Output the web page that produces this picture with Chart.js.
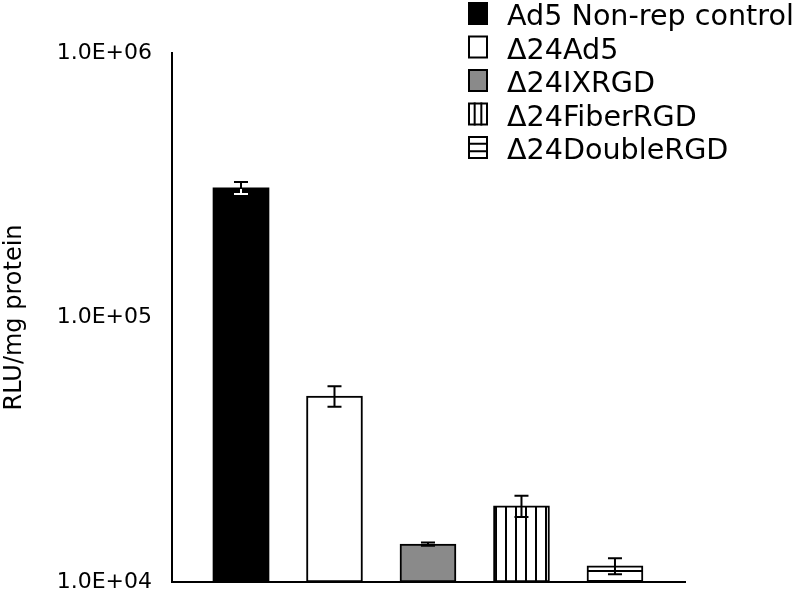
<!DOCTYPE html>
<html>
<head>
<meta charset="utf-8">
<script src="https://cdn.jsdelivr.net/npm/chart.js@4"></script>
<style>
  html, body { margin: 0; padding: 0; background: #fff; }
  #wrap { width: 800px; height: 591px; }
</style>
</head>
<body>
<div id="wrap"><canvas id="grafico"></canvas></div>
<script>
// datos
const categorias = ['Ad5 Non-rep control', 'Δ24Ad5', 'Δ24IXRGD', 'Δ24FiberRGD', 'Δ24DoubleRGD'];
const valoresRLU = [309000, 50500, 13900, 19400, 11500];
const erroresRLU = [16000, 4500, 200, 1800, 800];
const ticksY = [1e4, 1e5, 1e6];
const tituloY = 'RLU/mg protein';

const FUENTE = "'DejaVu Sans', Verdana, sans-serif";

// patrones de rayas para las barras 4 y 5
function crearPatron(dir) {
    const c = document.createElement('canvas');
    c.width = 10; c.height = 10;
    const g = c.getContext('2d');
    g.fillStyle = '#fff';
    g.fillRect(0, 0, 10, 10);
    g.fillStyle = '#000';
    if (dir === 'v') g.fillRect(5, 0, 2, 10);
    else g.fillRect(0, 0, 10, 2);
    return g.createPattern(c, 'repeat');
}

const ctx = document.getElementById('grafico').getContext('2d');
const rellenos = ['#000000', '#ffffff', '#8a8a8a', crearPatron('v'), crearPatron('h')];

function formatoCientifico(v) {
    const exp = Math.round(Math.log10(v));
    const mant = v / Math.pow(10, exp);
    return mant.toFixed(1) + 'E+' + String(exp).padStart(2, '0');
}

// barras de error
const pluginErrores = {
    id: 'errores',
    afterDatasetsDraw(chart) {
        const c = chart.ctx;
        const y = chart.scales.y;
        const meta = chart.getDatasetMeta(0);
        meta.data.forEach((el, i) => {
            const top = y.getPixelForValue(valoresRLU[i] + erroresRLU[i]);
            const bot = y.getPixelForValue(valoresRLU[i] - erroresRLU[i]);
            const dibujar = (color) => {
                c.save();
                c.strokeStyle = color;
                c.lineWidth = 2;
                c.beginPath();
                c.moveTo(el.x, top); c.lineTo(el.x, bot);
                c.moveTo(el.x - 7, top); c.lineTo(el.x + 7, top);
                c.moveTo(el.x - 7, bot); c.lineTo(el.x + 7, bot);
                c.stroke();
                c.restore();
            };
            dibujar('#000');
            if (i === 0) {
                // dentro de la barra negra se ve en blanco
                c.save();
                c.beginPath();
                c.rect(el.x - el.width / 2, el.y + 1, el.width, el.base - el.y);
                c.clip();
                dibujar('#fff');
                c.restore();
            }
        });
    }
};

// leyenda propia arriba a la derecha
const pluginLeyenda = {
    id: 'leyendaPropia',
    afterDraw(chart) {
        const c = chart.ctx;
        c.save();
        c.font = '28.6px ' + FUENTE;
        c.textBaseline = 'alphabetic';
        categorias.forEach((nombre, i) => {
            const base = 25 + 33.5 * i;
            const x = 468, w = 20, h = 23, t = base - h;
            c.fillStyle = i === 0 ? '#000' : (i === 2 ? '#8a8a8a' : '#fff');
            c.fillRect(x, t, w, h);
            c.strokeStyle = '#000';
            c.lineWidth = 2;
            c.strokeRect(x + 1, t + 1, w - 2, h - 2);
            if (i === 3) {
                c.beginPath();
                c.moveTo(x + w / 3, t); c.lineTo(x + w / 3, t + h);
                c.moveTo(x + 2 * w / 3, t); c.lineTo(x + 2 * w / 3, t + h);
                c.stroke();
            }
            if (i === 4) {
                c.beginPath();
                c.moveTo(x, t + h / 3); c.lineTo(x + w, t + h / 3);
                c.moveTo(x, t + 2 * h / 3); c.lineTo(x + w, t + 2 * h / 3);
                c.stroke();
            }
            c.fillStyle = '#000';
            c.fillText(nombre, 507, base);
        });
        c.restore();
    }
};

new Chart(ctx, {
    type: 'bar',
    data: {
        datasets: [{
            label: 'RLU',
            data: valoresRLU.map((v, i) => ({ x: i + 1, y: v })),
            backgroundColor: rellenos,
            borderColor: '#000',
            borderWidth: [0, 2, 2, 2, 2],
            borderSkipped: false,
            barThickness: 56
        }]
    },
    options: {
        responsive: true,
        maintainAspectRatio: false,
        animation: false,
        layout: { padding: { top: 53, right: 115, bottom: 9, left: 0 } },
        plugins: { legend: { display: false }, tooltip: { enabled: false } },
        scales: {
            x: {
                type: 'linear',
                offset: false,
                min: 0.262, max: 5.749,
                grid: { display: false, drawTicks: false },
                ticks: { display: false },
                border: { display: true, color: '#000', width: 2 }
            },
            y: {
                type: 'logarithmic',
                min: 1e4, max: 1e6,
                afterBuildTicks: (s) => { s.ticks = ticksY.map(v => ({ value: v })); },
                afterFit: (s) => { s.width = 172; s.paddingTop = 0; s.paddingBottom = 0; },
                grid: { display: false, drawTicks: false },
                border: { display: true, color: '#000', width: 2 },
                ticks: {
                    color: '#000',
                    padding: 20,
                    font: { family: FUENTE, size: 22 },
                    callback: (v) => formatoCientifico(v)
                },
                title: {
                    display: true,
                    text: tituloY,
                    color: '#000',
                    padding: 0,
                    font: { family: FUENTE, size: 24 }
                }
            }
        }
    },
    plugins: [pluginErrores, pluginLeyenda]
});
</script>
</body>
</html>
